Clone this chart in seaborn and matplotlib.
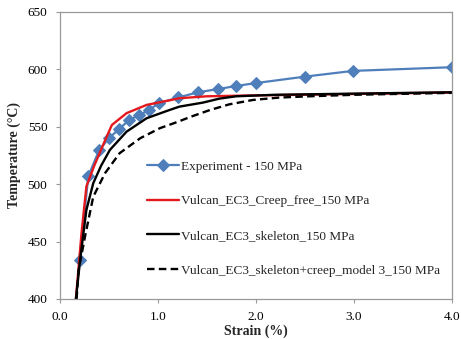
import matplotlib
matplotlib.use("Agg")
import matplotlib.pyplot as plt
import seaborn as sns
import pandas as pd

# Experiment - 150 MPa
exp_strain = [0.20, 0.29, 0.40, 0.50, 0.605, 0.707, 0.81, 0.91, 1.01, 1.21, 1.41, 1.61, 1.80, 2.00, 2.50, 2.99, 4.00]
exp_temp = [434, 507, 529.5, 540, 548, 556, 560, 564.6, 570.5, 575.5, 580, 582.7, 585.5, 588, 593.6, 598.6, 601.8]

# Vulcan_EC3_Creep_free_150 MPa
red_strain = [0.163, 0.20, 0.22, 0.27, 0.35, 0.45, 0.53, 0.68, 0.885, 1.12, 1.22, 1.50, 2.00, 2.45, 3.00, 4.00]
red_temp = [400, 437, 457, 498, 516, 536, 551.5, 561.8, 569, 573, 574.8, 576.5, 577.3, 577.8, 578.5, 579.8]

# Vulcan_EC3_skeleton_150 MPa
blk_strain = [0.163, 0.21, 0.27, 0.34, 0.42, 0.51, 0.68, 0.885, 1.12, 1.22, 1.46, 1.63, 1.80, 2.20, 3.00, 4.00]
blk_temp = [400, 437, 477.5, 500.8, 516, 529.8, 545.7, 557.4, 564.6, 567.5, 571, 574.5, 576.5, 577.8, 578.8, 580]

# Vulcan_EC3_skeleton+creep_model 3_150 MPa
dsh_strain = [0.17, 0.19, 0.255, 0.34, 0.46, 0.61, 0.82, 1.02, 1.21, 1.33, 1.53, 1.73, 1.97, 2.24, 2.55, 3.00, 4.00]
dsh_temp = [400, 425, 454, 489, 509.5, 527, 540, 548.7, 554.5, 558.5, 564.5, 569.5, 573.3, 575.4, 576.5, 577.8, 579.5]

labels = ["Experiment - 150 MPa",
          "Vulcan_EC3_Creep_free_150 MPa",
          "Vulcan_EC3_skeleton_150 MPa",
          "Vulcan_EC3_skeleton+creep_model 3_150 MPa"]

xticks = [0.0, 1.0, 2.0, 3.0, 4.0]
yticks = [400, 450, 500, 550, 600, 650]

sns.set_theme(style="white")
plt.rcParams['font.family'] = ['Liberation Serif', 'DejaVu Serif']

fig = plt.figure(figsize=(4.61, 3.39), dpi=100)
ax = fig.add_axes([0.130, 0.118, 0.850, 0.847])

sns.lineplot(x=exp_strain, y=exp_temp, ax=ax, color="#4F7FBA", lw=1.6, marker="D",
             markersize=5.8, markeredgecolor="#4F7FBA", sort=False, estimator=None, label=labels[0])
sns.lineplot(x=red_strain, y=red_temp, ax=ax, color="#E3191E", lw=1.7,
             sort=False, estimator=None, label=labels[1])
sns.lineplot(x=blk_strain, y=blk_temp, ax=ax, color="black", lw=1.7,
             sort=False, estimator=None, label=labels[2])
sns.lineplot(x=dsh_strain, y=dsh_temp, ax=ax, color="black", lw=1.7, linestyle=(0, (3.2, 1.8)),
             sort=False, estimator=None, label=labels[3])

ax.set_xlim(0, 4)
ax.set_ylim(400, 650)
ax.set_xticks(xticks)
ax.set_xticklabels([f"{t:.1f}" for t in xticks])
ax.set_yticks(yticks)
ax.set_yticklabels([str(t) for t in yticks])
ax.tick_params(axis="both", labelsize=9.5, colors="#999999", labelcolor="black",
               length=3, direction="out", left=True, bottom=True, width=0.8)
ax.tick_params(axis="x", pad=6)
ax.tick_params(axis="y", pad=6)
for s in ax.spines.values():
    s.set_color("#999999")
    s.set_linewidth(0.9)

ax.set_xlabel("Strain (%)", fontsize=10, fontweight="bold", labelpad=1)
ax.set_ylabel("Temperature (°C)", fontsize=10, fontweight="bold", labelpad=5)

leg = ax.legend(loc="center left", bbox_to_anchor=(0.222, 0.28), frameon=False, fontsize=9.5,
                handlelength=2.4, handletextpad=0.2, labelspacing=1.7, borderpad=0, borderaxespad=0)

fig.savefig("out.png", dpi=100)
